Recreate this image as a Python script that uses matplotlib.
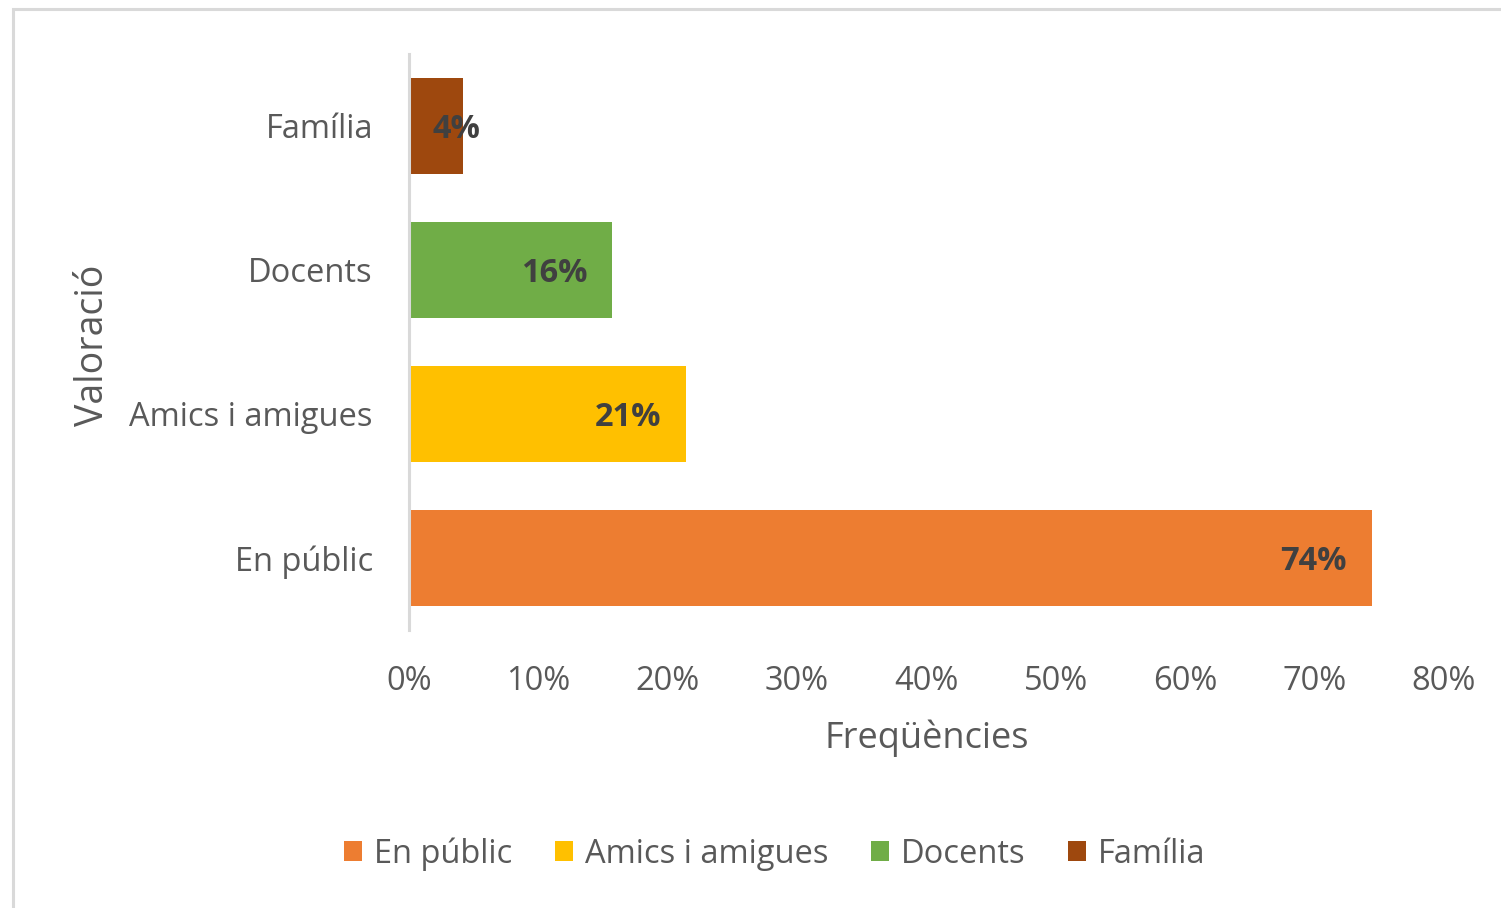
import matplotlib
matplotlib.use("Agg")
import matplotlib.pyplot as plt
from matplotlib.patches import Patch, Rectangle

plt.rcParams['font.family'] = ['Open Sans', 'DejaVu Sans']

categories = ["En públic", "Amics i amigues", "Docents", "Família"]
values = [0.744, 0.214, 0.157, 0.042]
labels = ["74%", "21%", "16%", "4%"]
colors = ["#ED7D31", "#FFC000", "#70AD47", "#9E480E"]
xticks = [0, 0.1, 0.2, 0.3, 0.4, 0.5, 0.6, 0.7, 0.8]
xticklabels = ["0%", "10%", "20%", "30%", "40%", "50%", "60%", "70%", "80%"]

TXT = "#595959"
FS = 23.5
W, H = 1501, 908
fig = plt.figure(figsize=(W / 100, H / 100), dpi=100)
ax = fig.add_axes([409 / W, 1 - 630 / H, (1444 - 409) / W, (630 - 54) / H])

ypos = list(range(len(categories)))
ax.barh(ypos, values, height=0.66, color=colors, zorder=2)

ax.set_xlim(0, 0.8)
ax.set_ylim(-0.5, 3.5)
ax.set_xticks(xticks)
ax.set_xticklabels(xticklabels)
ax.set_yticks(ypos)
ax.set_yticklabels(categories)
ax.tick_params(axis='x', length=0, pad=25, labelsize=FS, labelcolor=TXT)
ax.tick_params(axis='y', length=0, pad=26, labelsize=FS, labelcolor=TXT)

for s in ['top', 'right', 'bottom']:
    ax.spines[s].set_visible(False)
ax.spines['left'].set_color('#D9D9D9')
ax.spines['left'].set_linewidth(2.2)
ax.spines['left'].set_zorder(3)

for y, v, lab in zip(ypos, values, labels):
    if v < 0.08:
        ax.annotate(lab, xy=(0, y), xytext=(17, -2.5), textcoords='offset points',
                    ha='left', va='center', fontsize=FS, fontweight='bold',
                    color='#404040', zorder=4)
    else:
        ax.annotate(lab, xy=(v, y), xytext=(-18, -2.5), textcoords='offset points',
                    ha='right', va='center', fontsize=FS, fontweight='bold',
                    color='#404040', zorder=4)

ax.set_xlabel("Freqüències", fontsize=26, color=TXT, va='center')
ax.xaxis.set_label_coords(0.5, (630 - 738) / (630 - 54))
ax.set_ylabel("Valoració", fontsize=27, color=TXT, va='center')
ax.yaxis.set_label_coords((93 - 409) / (1444 - 409), (630 - 345) / (630 - 54))

handles = [Patch(facecolor=c, edgecolor='none') for c in colors]
fig.legend(handles, categories, loc='center', bbox_to_anchor=(775 / W, 1 - 854 / H),
           ncol=4, frameon=False, fontsize=FS, labelcolor=TXT,
           handlelength=0.55, handleheight=0.55, handletextpad=0.37,
           columnspacing=1.3)

# outer chart frame
fig.patches.append(Rectangle((13 / W, -0.1), 1.2, 1 - 9 / H + 0.1,
                             transform=fig.transFigure, fill=False,
                             edgecolor='#D9D9D9', linewidth=2.2))

fig.savefig("out.png", dpi=100, facecolor='white')
